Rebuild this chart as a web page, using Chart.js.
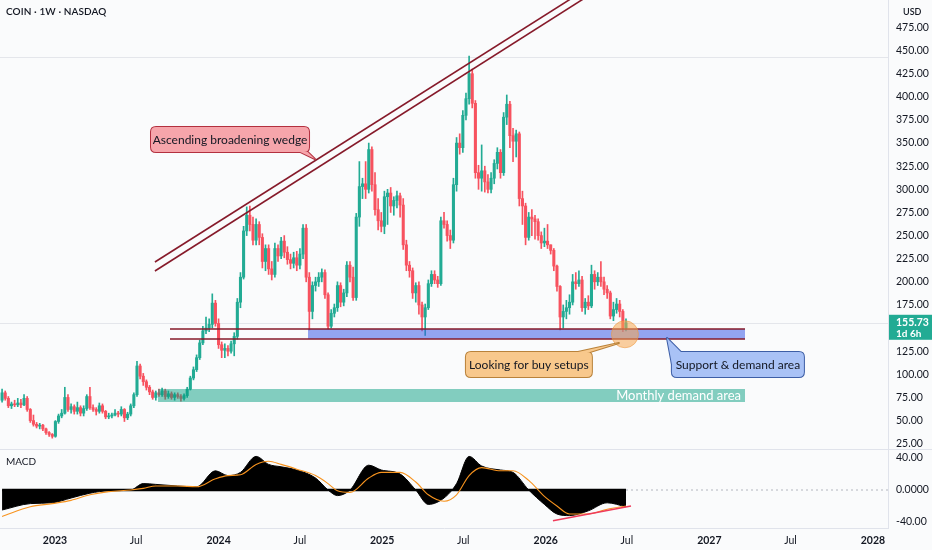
<!DOCTYPE html>
<html><head><meta charset="utf-8">
<script src="https://cdn.jsdelivr.net/npm/chart.js@4.4.0/dist/chart.umd.min.js"></script>
<style>
html,body{margin:0;padding:0;background:#fafbfc;}
#wrap{position:relative;width:932px;height:550px;overflow:hidden;background:#fafbfc;font-family:Lato,"Noto Sans",sans-serif;color:#131722;}
#c1{position:absolute;left:0;top:0;}
#c2{position:absolute;left:0;top:450px;}
.sep{position:absolute;left:0;top:449px;width:932px;height:1px;background:#e0e3eb;}
#title{position:absolute;left:6px;top:5px;font:600 10px Lato,sans-serif;letter-spacing:0.1px;}
#usd{position:absolute;left:903px;top:6px;font:600 9px Lato,sans-serif;}
#macdlbl{position:absolute;left:6px;top:455px;font:10px Lato,sans-serif;}
</style></head>
<body><div id="wrap">
<canvas id="c1" width="932" height="449"></canvas>
<div class="sep"></div>
<canvas id="c2" width="932" height="100"></canvas>
<div id="title">COIN · 1W · NASDAQ</div>
<div id="usd">USD</div>
<div id="macdlbl">MACD</div>
</div>
<script>
// ---------------- data ----------------
const FIRST_WEEK = Date.UTC(2022, 8, 5);
const WEEK_MS = 7 * 86400000;
const open = [
72,80,74,66,68,67,69,67,74,62, 50,46,44,45,41,37,35,33,49,55,
58,75,62,65,60,64,58,63,76,64, 62,60,66,60,54,55,56,58,57,62,
53,57,66,78,109,98,92,86,81,75, 80,78,82,76,79,75,78,76,74,77,
84,96,105,118,134,147,150,154,177,155, 132,126,128,125,133,141,178,205,255,272,
262,245,262,248,222,236,214,208,236,228, 244,232,224,220,226,218,230,258,205,168,
196,200,205,210,186,152,166,172,196,178, 188,218,205,183,270,303,306,300,343,305,
278,266,260,292,296,282,288,293,283,240, 218,212,188,196,175,162,172,198,208,202,
198,266,262,250,245,305,350,345,380,398, 425,393,318,312,320,308,300,312,328,340,
318,378,392,358,352,360,290,282,248,270, 268,265,250,242,244,240,234,217,195,162,
168,172,178,200,198,202,172,178,174,208, 200,205,200,192,188,163,170,176,168,150];
const close = [
80,74,66,68,67,69,67,74,62,50, 46,44,45,41,37,35,33,49,55,58,
75,62,65,60,64,58,63,76,64,62, 60,66,60,54,55,56,58,57,62,53,
57,66,78,109,98,92,86,81,75,80, 78,82,76,79,75,78,76,74,77,84,
96,105,118,134,147,150,154,177,155,132, 126,128,125,133,141,178,205,255,272,262,
245,262,248,222,236,214,208,236,228,244, 232,224,220,226,218,230,258,205,168,196,
200,205,210,186,152,166,172,196,178,188, 218,205,183,270,303,306,300,343,305,278,
266,260,292,296,282,288,293,283,240,218, 212,188,196,175,162,172,198,208,202,198,
266,262,250,245,305,350,345,380,398,425, 393,318,312,320,308,300,312,328,340,318,
378,392,358,352,360,290,282,248,270,268, 265,250,242,244,240,234,217,195,162,168,
172,178,200,198,202,172,178,174,208,200, 205,200,192,188,163,170,176,168,150,155.73];
const high = [
84,82,76,70,72,74,73,78,76,63, 56,48,47,46,42,38,36,50,57,62,
86,78,68,67,70,66,66,78,86,67, 64,69,68,61,58,58,62,60,65,63,
59,68,80,114,111,101,94,88,83,82, 84,85,84,82,81,80,80,78,79,86,
98,108,121,137,152,162,160,187,180,160, 135,133,131,136,145,182,210,260,281,282,
270,268,265,252,240,240,222,242,240,248, 250,238,230,232,233,236,262,262,210,200,
205,210,214,213,188,170,176,200,199,192, 222,222,216,274,330,312,330,350,346,318,
290,275,298,300,302,292,298,296,290,245, 222,215,199,200,178,176,202,212,212,206,
270,275,266,256,312,356,360,385,404,444, 430,396,326,348,325,316,318,332,345,343,
383,402,395,366,364,362,298,285,275,278, 272,268,254,258,262,240,236,218,196,175,
180,186,208,210,212,206,182,185,218,212, 210,222,205,196,190,178,182,180,170,160];
const low = [
70,72,64,63,65,65,64,66,60,48, 44,42,41,39,35,33,31,32,47,53,
57,60,58,57,57,55,55,61,62,60, 56,58,58,52,52,53,55,54,55,49,
51,55,64,76,95,88,83,78,73,72, 76,76,73,74,73,72,74,71,72,75,
83,94,103,116,132,144,146,150,152,128, 118,118,120,123,120,138,172,203,250,255,
240,240,240,215,212,208,202,205,222,225, 226,219,214,215,212,214,225,200,148,160,
190,195,200,182,149,150,162,168,173,174, 184,200,180,180,260,290,290,296,298,272,
256,254,252,262,275,272,280,270,235,212, 205,182,178,165,147,142,170,195,198,194,
196,258,244,236,242,298,338,340,375,392, 388,312,300,298,297,296,296,306,322,312,
315,370,345,330,335,282,262,240,245,250, 246,245,236,238,236,230,212,190,148,150,
160,165,175,192,195,168,165,170,172,192, 196,195,186,182,160,158,166,162,146,147];

// MACD pane (values read at candle indices)
const macdAt     = [0,9,16,22,28,34,41,45,49,56,62,68,72,76,81,85,89,94,100,104,107,111,117,121,127,132,136,141,145,149,153,159,163,168,173,177,181,187,193,199];
const macdLine   = [-25,-17,-16,-10,-4,-1,0,8,7,5,4,24,18,22,42,32,29,25,15,0,-7,0,31,25,20,0,-18,-10,8,42,30,25,22,0,-18,-30,-32,-26,-16,-21];
const signalLine = [-33,-21,-17,-13,-6,-2,0,2,5,5,4,14,18,19,32,36,32,26,18,8,-1,-3,15,22,22,10,-6,-14,-6,18,28,24,24,12,-8,-20,-30,-30,-24,-20];
const macdTrend  = [[2026.044,-38.5],[2026.521,-20]];

// axes
const X_MIN = 2022.664, X_MAX = 2028.092;
const P_MIN = 19.27, P_MAX = 504.68;
const M_MIN = -47.5, M_MAX = 50;
const priceTicks = [25,50,75,100,125,150,175,200,225,250,275,300,325,350,375,400,425,450,475];
const macdTicks = [40,0,-40];
const xTickDates = [[2023,0],[2023,6],[2024,0],[2024,6],[2025,0],[2025,6],[2026,0],[2026,6],[2027,0],[2027,6],[2028,0]];
const xTickLabels = ['2023','Jul','2024','Jul','2025','Jul','2026','Jul','2027','Jul','2028'];

// drawings (data coordinates: decimal year, price)
const wedgeUpper = [[2023.611,221.4],[2026.279,520]];
const wedgeLower = [[2023.611,211.7],[2026.356,520]];
const supportTop = 149.0, supportBottom = 138.2, supportFrom = 2023.703, supportTo = 2027.218, blueFrom = 2024.546;
const demandTop = 84.1, demandBottom = 70.1, demandFrom = 2023.630, demandTo = 2027.218;
const demandLabel = 'Monthly demand area';
const refLines = [443.0, 155.73];
const circle = {x:2026.484, y:143.3};
const countdown = '1d 6h';
const callouts = [
  {text:'Ascending broadening wedge', x0:2023.587, x1:2024.553, y0:367.4, y1:340.4,
   base:[[2024.498,340.4],[2024.545,340.4]], tip:[2024.589,332.8], fill:'#f6a5ab', stroke:'#b3303f'},
  {text:'Looking for buy setups', x0:2025.512, x1:2026.282, y0:124.1, y1:97.1,
   base:[[2026.197,124.1],[2026.270,124.1]], tip:[2026.447,133.9], fill:'#f8c88c', stroke:'#b9823a'},
  {text:'Support & demand area', x0:2026.771, x1:2027.578, y0:124.1, y1:97.1,
   base:[[2026.771,111.2],[2026.826,124.1]], tip:[2026.741,139.3], fill:'#a9c2f6', stroke:'#3d5ea6'}
];

// ---------------- helpers ----------------
function yearOf(ms){const d=new Date(ms);const y=d.getUTCFullYear();const s=Date.UTC(y,0,1),e=Date.UTC(y+1,0,1);return y+(ms-s)/(e-s);}
const candleX = close.map((_,i)=>yearOf(FIRST_WEEK+i*WEEK_MS));
const xTickVals = xTickDates.map(d=>yearOf(Date.UTC(d[0],d[1],1)));
const UP='#22ab94', DN='#f7525f', MAROON='#861a2a';
const candleColor = c => close[c.dataIndex] >= open[c.dataIndex] ? UP : DN;
const pts = arr => arr.map(p=>({x:p[0],y:p[1]}));
const seg = (x0,x1,v) => [{x:x0,y:v},{x:x1,y:v}];

function rr(ctx,x,y,w,h,r){ctx.moveTo(x+r,y);ctx.lineTo(x+w-r,y);ctx.quadraticCurveTo(x+w,y,x+w,y+r);ctx.lineTo(x+w,y+h-r);ctx.quadraticCurveTo(x+w,y+h,x+w-r,y+h);ctx.lineTo(x+r,y+h);ctx.quadraticCurveTo(x,y+h,x,y+h-r);ctx.lineTo(x,y+r);ctx.quadraticCurveTo(x,y,x+r,y);ctx.closePath();}
function drawCallout(ctx,xs,ys,c){
  const L=xs.getPixelForValue(c.x0),R=xs.getPixelForValue(c.x1),T=ys.getPixelForValue(c.y0),B=ys.getPixelForValue(c.y1);
  const tip=[xs.getPixelForValue(c.tip[0]),ys.getPixelForValue(c.tip[1])];
  const b=c.base.map(p=>[xs.getPixelForValue(p[0]),ys.getPixelForValue(p[1])]);
  const box=()=>{ctx.beginPath();rr(ctx,L,T,R-L,B-T,5);};
  const tail=()=>{ctx.beginPath();ctx.moveTo(b[0][0],b[0][1]);ctx.lineTo(tip[0],tip[1]);ctx.lineTo(b[1][0],b[1][1]);ctx.closePath();};
  ctx.lineWidth=2;ctx.lineJoin='round';ctx.strokeStyle=c.stroke;
  box();ctx.stroke();tail();ctx.stroke();
  ctx.fillStyle=c.fill;box();ctx.fill();tail();ctx.fill();
  ctx.fillStyle='#131722';ctx.font='12px Lato';ctx.textAlign='center';ctx.textBaseline='middle';
  ctx.fillText(c.text,(L+R)/2,(T+B)/2+0.5);
}

const annot = {
  id:'annot',
  beforeDatasetsDraw(chart){
    const {ctx,chartArea:a,scales:{y}}=chart;
    ctx.save();ctx.strokeStyle='#e4e6eb';ctx.lineWidth=1;
    refLines.forEach(p=>{const py=Math.round(y.getPixelForValue(p))+0.5;ctx.beginPath();ctx.moveTo(a.left,py);ctx.lineTo(a.right,py);ctx.stroke();});
    ctx.restore();
  },
  afterDatasetsDraw(chart){
    const {ctx,scales:{x,y}}=chart;
    ctx.save();
    ctx.font='13px Lato';ctx.fillStyle='#ffffff';ctx.textAlign='right';ctx.textBaseline='middle';
    ctx.fillText(demandLabel,x.getPixelForValue(demandTo)-4,y.getPixelForValue((demandTop+demandBottom)/2)+0.5);
    ctx.beginPath();ctx.arc(x.getPixelForValue(circle.x),y.getPixelForValue(circle.y),13.5,0,Math.PI*2);
    ctx.fillStyle='rgba(247,168,80,0.55)';ctx.fill();ctx.strokeStyle='rgba(236,150,60,0.55)';ctx.lineWidth=1;ctx.stroke();
    callouts.forEach(c=>drawCallout(ctx,x,y,c));
    ctx.restore();
  },
  afterDraw(chart){
    const {ctx,chartArea:a,scales:{y}}=chart;
    const last=close[close.length-1];const py=y.getPixelForValue(last);
    ctx.save();
    ctx.fillStyle='#22ab94';ctx.fillRect(a.right+1,py-8,chart.width-a.right-1,25);
    ctx.fillStyle='#ffffff';ctx.font='bold 10.5px Lato';ctx.textAlign='left';ctx.textBaseline='middle';
    ctx.fillText(last.toFixed(2),a.right+8,py);
    ctx.font='bold 10px Lato';ctx.fillText(countdown,a.right+8,py+11);
    ctx.restore();
  }
};

const noPad = s => { s.paddingTop=0; s.paddingBottom=0; s.paddingLeft=0; s.paddingRight=0; };
const tickFont = {family:'Lato',size:10.5};
const lineDs = (data,color,w,order) => ({type:'line',data,borderColor:color,borderWidth:w,pointRadius:0,fill:false,order,tension:0});

// ---------------- main chart ----------------
new Chart(document.getElementById('c1'),{
  type:'bar',
  data:{datasets:[
    lineDs(pts(wedgeUpper),MAROON,1.6,0),
    lineDs(pts(wedgeLower),MAROON,1.6,0),
    lineDs(seg(supportFrom,supportTo,supportTop),MAROON,1.6,0),
    lineDs(seg(supportFrom,supportTo,supportBottom),MAROON,1.6,0),
    {type:'line',data:seg(blueFrom,supportTo,supportTop),borderWidth:0,pointRadius:0,fill:'+1',backgroundColor:'rgba(62,92,232,0.55)',order:1},
    {type:'line',data:seg(blueFrom,supportTo,supportBottom),borderWidth:0,pointRadius:0,fill:false,order:1},
    {type:'line',data:seg(demandFrom,demandTo,demandTop),borderWidth:0,pointRadius:0,fill:'+1',backgroundColor:'rgba(0,155,125,0.48)',order:1},
    {type:'line',data:seg(demandFrom,demandTo,demandBottom),borderWidth:0,pointRadius:0,fill:false,order:1},
    {label:'wick',data:candleX.map((x,i)=>({x,y:[low[i],high[i]]})),backgroundColor:candleColor,barThickness:1,grouped:false,order:3},
    {label:'body',data:candleX.map((x,i)=>({x,y:[open[i],close[i]]})),backgroundColor:candleColor,barThickness:2.4,minBarLength:1,grouped:false,order:2}
  ]},
  options:{
    responsive:false,animation:false,events:[],
    layout:{padding:0,autoPadding:false},
    plugins:{legend:{display:false},tooltip:{enabled:false}},
    scales:{
      x:{type:'linear',display:false,min:X_MIN,max:X_MAX,offset:false,grid:{display:false,offset:false}},
      y:{type:'linear',position:'right',min:P_MIN,max:P_MAX,
        grid:{display:false,drawTicks:false},border:{display:true,color:'#e0e3eb'},
        afterBuildTicks:s=>{s.ticks=priceTicks.map(v=>({value:v}));},
        afterFit:s=>{s.width=44;noPad(s);},
        ticks:{padding:8,color:'#131722',font:tickFont,callback:v=>Number(v).toFixed(2)}}
    }
  },
  plugins:[annot]
});

// ---------------- MACD chart ----------------
new Chart(document.getElementById('c2'),{
  type:'line',
  data:{datasets:[
    lineDs(pts(macdTrend),'#ef3b5a',1.6,0),
    {data:macdAt.map((k,i)=>({x:candleX[k],y:signalLine[i]})),borderColor:'#f7931e',borderWidth:1.1,pointRadius:0,fill:false,cubicInterpolationMode:'monotone',order:1},
    lineDs(seg(candleX[0],candleX[candleX.length-1],0),'#000000',2.5,2),
    {data:macdAt.map((k,i)=>({x:candleX[k],y:macdLine[i]})),borderColor:'#000000',borderWidth:1,backgroundColor:'#000000',pointRadius:0,fill:'origin',cubicInterpolationMode:'monotone',order:3},
    {data:seg(candleX[candleX.length-1],X_MAX,0),borderColor:'#b2b5be',borderWidth:1,borderDash:[2,3],pointRadius:0,fill:false,order:4}
  ]},
  options:{
    responsive:false,animation:false,events:[],
    layout:{padding:0,autoPadding:false},
    plugins:{legend:{display:false},tooltip:{enabled:false}},
    scales:{
      x:{type:'linear',min:X_MIN,max:X_MAX,offset:false,
        grid:{display:false,drawTicks:false},border:{display:true,color:'#e0e3eb'},
        afterBuildTicks:s=>{s.ticks=xTickVals.map(v=>({value:v}));},
        afterFit:s=>{s.height=22;noPad(s);},
        ticks:{padding:6,autoSkip:false,maxRotation:0,color:'#131722',
          font:c=>({family:'Lato',size:10.5,weight:(c.index%2===0)?'bold':'normal'}),
          callback:(v,i)=>xTickLabels[i]}},
      y:{type:'linear',position:'right',min:M_MIN,max:M_MAX,
        grid:{display:false,drawTicks:false},border:{display:true,color:'#e0e3eb'},
        afterBuildTicks:s=>{s.ticks=macdTicks.map(v=>({value:v}));},
        afterFit:s=>{s.width=44;noPad(s);},
        ticks:{padding:8,color:'#131722',font:tickFont,callback:v=>v===0?'0.0000':Number(v).toFixed(2)}}
    }
  }
});
</script>
</body></html>
